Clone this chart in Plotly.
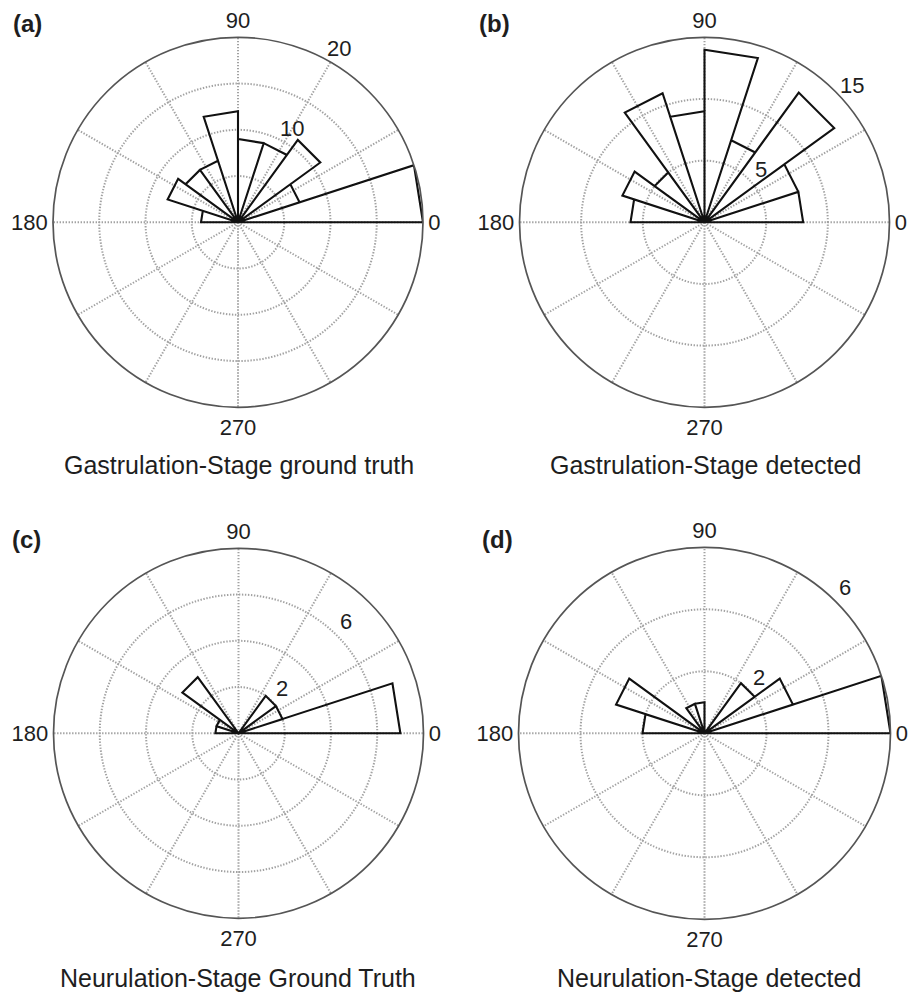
import math
import plotly.graph_objects as go

# ---------------- data ----------------
bin_width_deg = 18  # 20 rose bins
counts_a = [20, 7, 11, 9, 9, 12, 7, 7, 8, 4, 0, 0, 0, 0, 0, 0, 0, 0, 0, 0]
counts_b = [8, 8, 13, 7, 14, 9, 11, 5, 7, 6, 0, 0, 0, 0, 0, 0, 0, 0, 0, 0]
counts_c = [7, 2, 2, 0, 0, 0, 0, 3, 1, 1, 0, 0, 0, 0, 0, 0, 0, 0, 0, 0]
counts_d = [6, 3, 2, 0, 0, 1, 1, 0, 3, 2, 0, 0, 0, 0, 0, 0, 0, 0, 0, 0]

rings_a = [5, 10, 15, 20]
rings_b = [5, 10, 15]
rings_c = [2, 4, 6, 8]
rings_d = [2, 4, 6]

ring_labels_a = [10, 20]
ring_labels_b = [5, 15]
ring_labels_c = [2, 6]
ring_labels_d = [2, 6]

angle_ticks = [0, 30, 60, 90, 120, 150, 180, 210, 240, 270, 300, 330]
angle_tick_text = ["0", "", "", "90", "", "", "180", "", "", "270", "", ""]

titles = ["Gastrulation-Stage ground truth", "Gastrulation-Stage detected",
          "Neurulation-Stage Ground Truth", "Neurulation-Stage detected"]
panel_tags = ["(a)", "(b)", "(c)", "(d)"]

# ---------------- layout helpers ----------------
W, H = 908, 996
FONT = "Liberation Sans, Arial, sans-serif"


def dom(cx, cy, R):
    return dict(x=[(cx - R) / W, (cx + R) / W],
                y=[1 - (cy + R) / H, 1 - (cy - R) / H])


panels = [
    dict(counts=counts_a, rings=rings_a, labels=ring_labels_a, lab_ang=60,
         center=(238, 222.3), R=185),
    dict(counts=counts_b, rings=rings_b, labels=ring_labels_b, lab_ang=43,
         center=(704.5, 222.3), R=185),
    dict(counts=counts_c, rings=rings_c, labels=ring_labels_c, lab_ang=46,
         center=(238.5, 733.3), R=185),
    dict(counts=counts_d, rings=rings_d, labels=ring_labels_d, lab_ang=46,
         center=(704.5, 733.3), R=186),
]

fig = go.Figure()
layout = dict(width=W, height=H, margin=dict(l=0, r=0, t=0, b=0),
              paper_bgcolor="white", plot_bgcolor="white", showlegend=False,
              annotations=[])

grid_col = "#a2a2a2"
grid_dash = "1.4px,1.6px"
for i, p in enumerate(panels):
    name = "polar" if i == 0 else f"polar{i + 1}"
    rmax = p["rings"][-1]
    # rose polygon (MATLAB-style rose: straight outer edges)
    rr, tt = [], []
    for k, c in enumerate(p["counts"]):
        if c == 0:
            continue
        t1 = k * bin_width_deg
        t2 = (k + 1) * bin_width_deg
        rr += [0, c, c, 0]
        tt += [t1, t1, t2, t2]
    fig.add_trace(go.Scatterpolar(r=rr, theta=tt, mode="lines",
                                  line=dict(color="#111111", width=2.1),
                                  subplot=name, hoverinfo="skip"))
    # ring labels, placed just outside each labelled ring
    cx, cy = p["center"]
    a = math.radians(p["lab_ang"])
    for v in p["labels"]:
        rp = p["R"] * v / rmax + 16
        layout["annotations"].append(dict(
            text=str(v), x=(cx + rp * math.cos(a)) / W,
            y=1 - (cy - rp * math.sin(a)) / H, xref="paper", yref="paper",
            xanchor="center", yanchor="middle", showarrow=False,
            font=dict(size=22, color="#1e1e1e", family=FONT)))
    layout[name] = dict(
        domain=dom(cx, cy, p["R"]),
        bgcolor="white",
        angularaxis=dict(rotation=0, direction="counterclockwise",
                         tickmode="array", tickvals=angle_ticks,
                         ticktext=angle_tick_text, ticks="",
                         showgrid=True, gridcolor=grid_col, griddash=grid_dash,
                         gridwidth=1.5, showline=True, linecolor="#555555",
                         linewidth=1.7,
                         tickfont=dict(size=22, color="#1e1e1e", family=FONT)),
        radialaxis=dict(range=[0, rmax], tickmode="array", tickvals=p["rings"],
                        showticklabels=False, ticks="", showline=False,
                        showgrid=True, gridcolor=grid_col, griddash=grid_dash,
                        gridwidth=1.5),
    )

title_pos = [(239, 465), (705, 465), (238, 978), (709, 978)]
tag_pos = [(27, 24), (495, 24), (26, 539), (497, 539)]
for (x, y), t in zip(title_pos, titles):
    layout["annotations"].append(dict(
        text=t, x=x / W, y=1 - y / H, xref="paper", yref="paper",
        xanchor="center", yanchor="middle", showarrow=False,
        font=dict(size=25, color="#1e1e1e", family=FONT)))
for (x, y), t in zip(tag_pos, panel_tags):
    layout["annotations"].append(dict(
        text=f"<b>{t}</b>", x=x / W, y=1 - y / H, xref="paper", yref="paper",
        xanchor="center", yanchor="middle", showarrow=False,
        font=dict(size=24, color="#1e1e1e", family=FONT)))

fig.update_layout(**layout)
fig.write_html("out.html", config={"displayModeBar": False},
               post_script="document.body.style.margin='0px';"
                           "document.body.style.overflow='hidden';")
